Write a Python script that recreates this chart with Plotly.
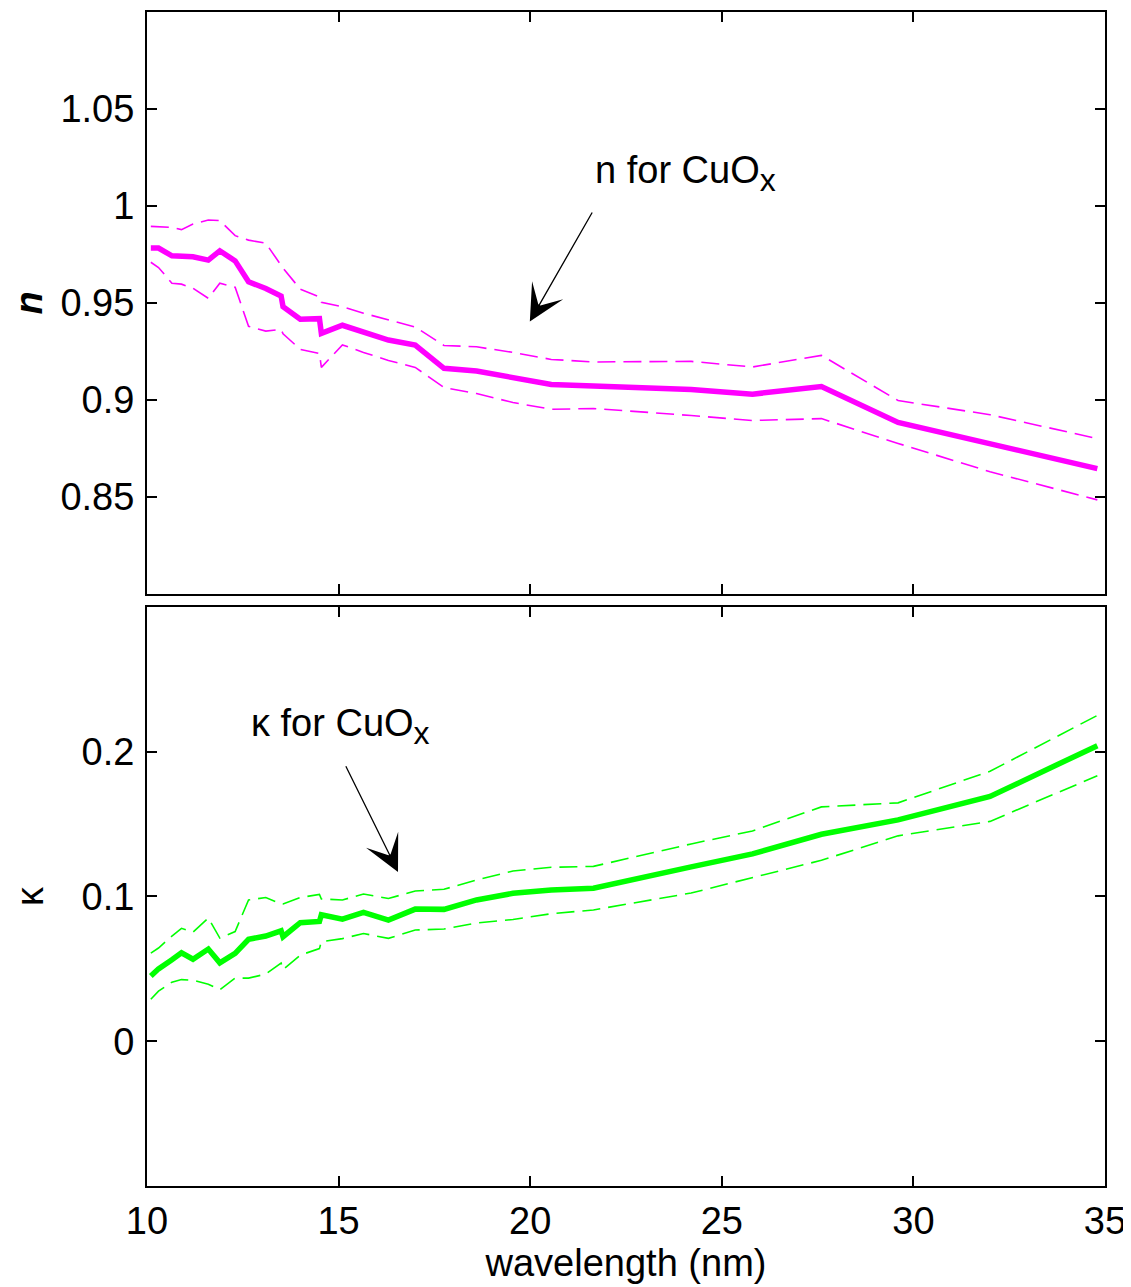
import plotly.graph_objects as go

# wavelength grid (nm)
wl = [10.1, 10.3, 10.65, 10.9, 11.2, 11.6, 11.9, 12.3, 12.65, 13.1, 13.5, 13.55, 14.0, 14.5, 14.55,
      15.1, 15.65, 16.3, 17.0, 17.75, 18.6, 19.55, 20.55, 21.65, 24.2, 25.8, 27.6, 29.6, 32.0, 34.8]

# refractive index n and its bounds
n_mid = [0.9783, 0.9783, 0.9743, 0.9741, 0.9738, 0.9721, 0.9769, 0.9717, 0.9609, 0.9575, 0.9536, 0.9481,
         0.9416, 0.9419, 0.9343, 0.9385, 0.9347, 0.9309, 0.9283, 0.9163, 0.9149, 0.9113, 0.9080, 0.9072,
         0.9054, 0.9030, 0.9069, 0.8884, 0.8774, 0.8646]
n_hi = [0.9895, 0.9893, 0.9890, 0.9878, 0.9907, 0.9928, 0.9925, 0.9847, 0.9824, 0.9808, 0.9695, 0.9680,
        0.9571, 0.9531, 0.9504, 0.9481, 0.9447, 0.9413, 0.9376, 0.9281, 0.9274, 0.9245, 0.9209, 0.9196,
        0.9199, 0.9170, 0.9230, 0.8997, 0.8924, 0.8801]
n_lo = [0.9710, 0.9683, 0.9602, 0.9597, 0.9576, 0.9524, 0.9602, 0.9581, 0.9380, 0.9355, 0.9364, 0.9341,
        0.9261, 0.9240, 0.9168, 0.9284, 0.9245, 0.9204, 0.9168, 0.9064, 0.9033, 0.8987, 0.8952, 0.8956,
        0.8920, 0.8894, 0.8904, 0.8776, 0.8630, 0.8485]

# extinction coefficient kappa and its bounds
k_mid = [0.045, 0.050, 0.0563, 0.0611, 0.0567, 0.0637, 0.0542, 0.0607, 0.0704, 0.0727, 0.0763, 0.0722,
         0.0819, 0.0828, 0.0874, 0.0844, 0.0891, 0.0837, 0.0913, 0.0911, 0.0976, 0.1022, 0.1045, 0.1057,
         0.1205, 0.1294, 0.1430, 0.1529, 0.1691, 0.2042]
k_hi = [0.0609, 0.0644, 0.0727, 0.0780, 0.0754, 0.0851, 0.0713, 0.0758, 0.0976, 0.0993, 0.0948, 0.0948,
        0.0993, 0.1014, 0.0983, 0.0976, 0.1017, 0.0986, 0.1038, 0.1050, 0.1114, 0.1176, 0.1202, 0.1208,
        0.1363, 0.1453, 0.1619, 0.1647, 0.1865, 0.2251]
k_lo = [0.0290, 0.0346, 0.0408, 0.0426, 0.0422, 0.0394, 0.0356, 0.0436, 0.0436, 0.0464, 0.0540, 0.0495,
        0.0595, 0.0640, 0.0687, 0.0709, 0.0744, 0.0711, 0.0768, 0.0775, 0.0817, 0.0841, 0.0881, 0.0907,
        0.1024, 0.1128, 0.1250, 0.1419, 0.1519, 0.1834]

x_ticks = [10, 15, 20, 25, 30, 35]
n_ticks = [0.85, 0.9, 0.95, 1, 1.05]
n_tick_text = ["0.85", "0.9", "0.95", "1", "1.05"]
k_ticks = [0, 0.1, 0.2]
k_tick_text = ["0", "0.1", "0.2"]

MAG = "#FF00FF"
GRN = "#00FF00"
FONT = "Liberation Sans, Arial, sans-serif"
FS = 38
DASH = "18px,8px"

fig = go.Figure()
for ys, w, d in [(n_hi, 1.6, DASH), (n_lo, 1.6, DASH), (n_mid, 5.5, "solid")]:
    fig.add_trace(go.Scatter(x=wl, y=ys, mode="lines", xaxis="x", yaxis="y",
                             line=dict(color=MAG, width=w, dash=d), showlegend=False))
for ys, w, d in [(k_hi, 1.6, DASH), (k_lo, 1.6, DASH), (k_mid, 5.5, "solid")]:
    fig.add_trace(go.Scatter(x=wl, y=ys, mode="lines", xaxis="x2", yaxis="y2",
                             line=dict(color=GRN, width=w, dash=d), showlegend=False))

axis_common = dict(showline=True, linecolor="black", linewidth=2, mirror="ticks",
                   ticks="inside", ticklen=10, tickwidth=1.5, tickcolor="black",
                   showgrid=False, zeroline=False, automargin=False,
                   tickfont=dict(family=FONT, size=FS, color="black"))

# page body has an 8px margin, so the figure is sized to fit inside the window
fig.update_layout(
    width=1123, height=1279,
    margin=dict(l=139, r=26, t=4, b=101),
    paper_bgcolor="white", plot_bgcolor="white",
    font=dict(family=FONT, size=FS, color="black"),
    xaxis=dict(domain=[0, 1], range=[10, 35], tickvals=x_ticks, showticklabels=False,
               anchor="y", **axis_common),
    yaxis=dict(domain=[0.5043, 1], range=[0.8, 1.1], tickvals=n_ticks, ticktext=n_tick_text,
               anchor="x", ticklabelstandoff=3,
               title=dict(text="<b><i>n</i></b>", font=dict(family=FONT, size=FS), standoff=38),
               **axis_common),
    xaxis2=dict(domain=[0, 1], range=[10, 35], tickvals=x_ticks, anchor="y2",
                ticklabelstandoff=0,
                title=dict(text="wavelength (nm)", font=dict(family=FONT, size=FS), standoff=8),
                **axis_common),
    yaxis2=dict(domain=[0, 0.4932], range=[-0.1, 0.3], tickvals=k_ticks, ticktext=k_tick_text,
                anchor="x2", ticklabelstandoff=3,
                title=dict(text="κ", font=dict(family=FONT, size=FS), standoff=26),
                **axis_common),
)

SUBX = "<sub><span style='font-size:32px'>x</span></sub>"
# annotations: text labels
fig.add_annotation(x=21.64, y=1.0165, xref="x", yref="y", text="n for CuO" + SUBX,
                   showarrow=False, xanchor="left", yanchor="middle",
                   font=dict(family=FONT, size=FS, color="black"))
fig.add_annotation(x=12.65, y=0.2175, xref="x2", yref="y2", text="κ for CuO" + SUBX,
                   showarrow=False, xanchor="left", yanchor="middle",
                   font=dict(family=FONT, size=FS, color="black"))
# arrows
fig.add_annotation(x=19.99, y=0.9405, xref="x", yref="y", ax=21.64, ay=0.9974,
                   axref="x", ayref="y", text="", showarrow=True,
                   arrowhead=3, arrowsize=4.6, arrowwidth=1.3, arrowcolor="black")
fig.add_annotation(x=16.55, y=0.117, xref="x2", yref="y2", ax=15.17, ay=0.191,
                   axref="x2", ayref="y2", text="", showarrow=True,
                   arrowhead=3, arrowsize=4.6, arrowwidth=1.3, arrowcolor="black")

fig.write_html("out.html")
